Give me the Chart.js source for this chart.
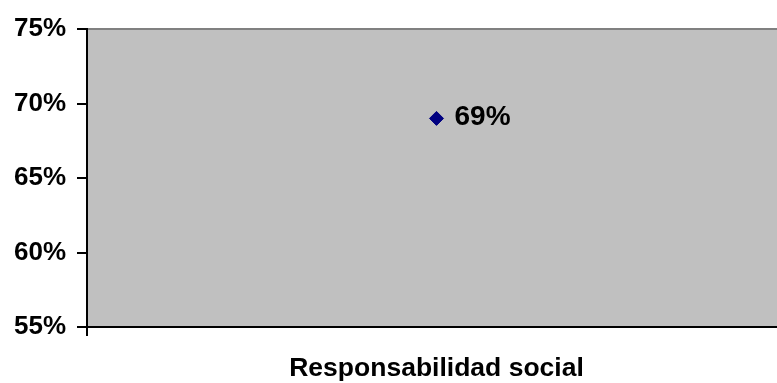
<!DOCTYPE html>
<html>
<head>
<meta charset="utf-8">
<script src="https://cdn.jsdelivr.net/npm/chart.js@4/dist/chart.umd.min.js"></script>
<style>
    html, body { margin: 0; padding: 0; background: #fff; overflow: hidden; }
    #SocialChart { display: block; }
</style>
</head>
<body>
<canvas id="SocialChart" width="794" height="383"></canvas>
<script>
var categories = ["Responsabilidad social"];
var scores = [0.69];
var yTicks = [0.55, 0.60, 0.65, 0.70, 0.75];

var fontFamily = "'Liberation Sans', Arial, sans-serif";

function pct(v) {
    return Math.round(v * 100) + '%';
}

// gray plot background with a darker top edge
var plotBackground = {
    id: 'plotBackground',
    beforeDraw: function (chart) {
        var a = chart.chartArea;
        var ctx = chart.ctx;
        ctx.save();
        ctx.fillStyle = '#c0c0c0';
        ctx.fillRect(a.left, a.top, a.right - a.left, a.bottom - a.top);
        ctx.strokeStyle = '#808080';
        ctx.lineWidth = 2;
        ctx.beginPath();
        ctx.moveTo(a.left, a.top);
        ctx.lineTo(a.right, a.top);
        ctx.stroke();
        ctx.restore();
    }
};

// value label to the right of each point
var pointLabels = {
    id: 'pointLabels',
    afterDatasetsDraw: function (chart) {
        var ctx = chart.ctx;
        var meta = chart.getDatasetMeta(0);
        ctx.save();
        ctx.font = 'bold 28px ' + fontFamily;
        ctx.fillStyle = '#000';
        ctx.textAlign = 'left';
        ctx.textBaseline = 'middle';
        meta.data.forEach(function (pt, i) {
            ctx.fillText(pct(scores[i]), pt.x + 18, pt.y - 1);
        });
        ctx.restore();
    }
};

var ctx = document.getElementById("SocialChart").getContext('2d');
var myChart = new Chart(ctx, {
    type: 'line',
    data: {
        labels: categories,
        datasets: [{
            data: scores,
            showLine: false,
            pointStyle: 'rectRot',
            pointRadius: 7,
            pointBackgroundColor: '#000080',
            pointBorderColor: '#000080',
            pointBorderWidth: 1
        }]
    },
    options: {
        responsive: false,
        animation: false,
        layout: { padding: { top: 29, left: 0, right: 1, bottom: 0 } },
        plugins: {
            legend: { display: false },
            tooltip: { enabled: false }
        },
        scales: {
            x: {
                offset: true,
                grid: {
                    offset: true,
                    drawOnChartArea: false,
                    tickLength: 9,
                    color: '#000',
                    lineWidth: 2
                },
                border: { color: '#000', width: 2 },
                ticks: {
                    color: '#000',
                    padding: 17,
                    font: { family: fontFamily, size: 26.5, weight: 'bold' }
                },
                afterFit: function (scale) { scale.height = 56; }
            },
            y: {
                min: yTicks[0],
                max: yTicks[yTicks.length - 1],
                afterBuildTicks: function (scale) {
                    scale.ticks = yTicks.map(function (v) { return { value: v }; });
                },
                grid: {
                    drawOnChartArea: false,
                    tickLength: 10,
                    color: '#000',
                    lineWidth: 2
                },
                border: { color: '#000', width: 2 },
                ticks: {
                    color: '#000',
                    padding: 11,
                    font: { family: fontFamily, size: 26, weight: 'bold' },
                    callback: function (v) { return pct(v); }
                },
                afterFit: function (scale) { scale.width = 87; }
            }
        }
    },
    plugins: [plotBackground, pointLabels]
});
</script>
</body>
</html>
